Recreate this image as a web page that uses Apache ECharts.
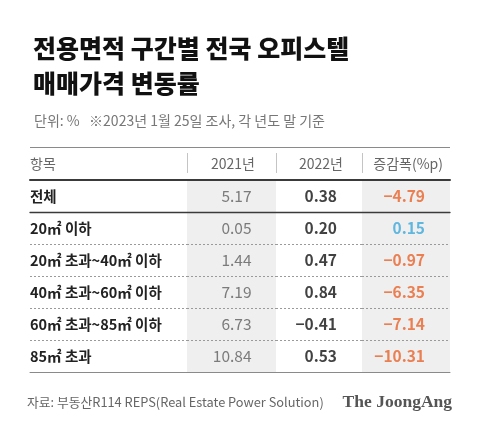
<!DOCTYPE html>
<html><head><meta charset="utf-8">
<script src="https://cdn.jsdelivr.net/npm/echarts@6/dist/echarts.min.js"></script>
<style>html,body{margin:0;padding:0;background:#fff}#c{width:480px;height:443px}</style>
</head><body><div id="c"></div>
<script>
const titleText = '전용면적 구간별 전국 오피스텔\n매매가격 변동률';
const subtitleText = '단위: %   ※2023년 1월 25일 조사, 각 년도 말 기준';
const headers = ['항목', '2021년', '2022년', '증감폭(%p)'];
const categories = ['전체', '20㎡ 이하', '20㎡ 초과~40㎡ 이하', '40㎡ 초과~60㎡ 이하', '60㎡ 초과~85㎡ 이하', '85㎡ 초과'];
const v2021 = [5.17, 0.05, 1.44, 7.19, 6.73, 10.84];
const v2022 = [0.38, 0.20, 0.47, 0.84, -0.41, 0.53];
const change = [-4.79, 0.15, -0.97, -6.35, -7.14, -10.31];
const sourceText = '자료: 부동산R114 REPS(Real Estate Power Solution)';
const brandText = 'The JoongAng';

const FONT = '"Noto Sans CJK KR", "Noto Sans", sans-serif';
const fmt = v => (v < 0 ? '−' : '') + Math.abs(v).toFixed(2);
const TOP = 180, H = 192;
const chart = echarts.init(document.getElementById('c'), null, {renderer: 'canvas'});

const colGrids = [
  {left: 30, width: 157},
  {left: 187, width: 89, shade: true},
  {left: 276, width: 86},
  {left: 362, width: 88, shade: true}
];
const grid = colGrids.map(g => ({
  left: g.left, width: g.width, top: TOP, height: H,
  show: !!g.shade, backgroundColor: g.shade ? '#efefef' : 'transparent', borderWidth: 0
}));
grid.push({left: 30, width: 420, top: TOP, height: H / categories.length});

const xAxis = colGrids.map((g, i) => ({
  type: 'category', gridIndex: i, data: [headers[i]], position: 'bottom',
  axisLine: {show: true, lineStyle: {color: '#8a8a8a', width: 1}},
  axisTick: {show: false}, axisLabel: {show: false}, splitLine: {show: false}
}));
xAxis.push({type: 'value', gridIndex: 4, position: 'top', min: 0, max: 1,
  axisLine: {show: true, onZero: false, lineStyle: {color: '#3a3a3a', width: 2}},
  axisTick: {show: false}, axisLabel: {show: false}, splitLine: {show: false}});
xAxis.push({type: 'value', gridIndex: 4, position: 'bottom', min: 0, max: 1,
  axisLine: {show: true, onZero: false, lineStyle: {color: '#3a3a3a', width: 1.3}},
  axisTick: {show: false}, axisLabel: {show: false}, splitLine: {show: false}});

const yAxis = colGrids.map((g, i) => ({
  type: 'category', gridIndex: i, data: categories, inverse: true, position: 'left',
  axisLine: {show: false}, axisTick: {show: false},
  axisLabel: i === 0 ? {
    show: true, inside: true, margin: 0, align: 'left', interval: 0,
    fontFamily: FONT, fontSize: 14.5, fontWeight: 'bold', color: '#222'
  } : {show: false},
  splitLine: {show: true, interval: 0, lineStyle: {color: '#9a9a9a', width: 1, type: [2, 2]}}
}));
yAxis.push({type: 'category', gridIndex: 4, data: [categories[0]], show: false});

function colSeries(idx, values, offset, styleFn) {
  return {
    type: 'scatter', xAxisIndex: idx, yAxisIndex: idx, symbolSize: 1,
    itemStyle: {color: 'rgba(0,0,0,0)'}, silent: true,
    data: values.map((v, i) => ({
      value: [headers[idx], categories[i], v],
      label: styleFn(v, i)
    })),
    label: {
      show: true, position: 'inside', align: 'right', verticalAlign: 'middle',
      offset: [offset, 0], fontFamily: FONT, fontSize: 15.5,
      formatter: p => fmt(p.value[2])
    }
  };
}

const series = [
  colSeries(1, v2021, 20, () => ({color: '#5e5e5e', fontWeight: 'normal'})),
  colSeries(2, v2022, 18, () => ({color: '#111', fontWeight: 'bold'})),
  colSeries(3, change, 19, v => ({color: v < 0 ? '#e8632b' : '#3ba7d9', fontWeight: 'bold'}))
];

const headerX = [30, 255, 343, 443];
const graphic = [
  {type: 'line', shape: {x1: 30, y1: 147.5, x2: 450, y2: 147.5}, style: {stroke: '#8a8a8a', lineWidth: 1}},
  ...[187, 276, 362].map(x => ({type: 'line', shape: {x1: x + 0.5, y1: 153, x2: x + 0.5, y2: 173}, style: {stroke: '#c4c4c4', lineWidth: 1}})),
  ...headers.map((h, i) => ({
    type: 'text', x: headerX[i], y: 164,
    style: {text: h, fill: '#666', font: '14px ' + FONT, textAlign: i === 0 ? 'left' : 'right', textVerticalAlign: 'middle'}
  })),
  {type: 'text', x: 27, y: 402, style: {text: sourceText, fill: '#666', font: '12.8px ' + FONT, textAlign: 'left', textVerticalAlign: 'middle'}},
  {type: 'text', x: 452, y: 402, style: {text: brandText, fill: '#555', font: 'bold 17.5px "Liberation Serif", "DejaVu Serif", serif', textAlign: 'right', textVerticalAlign: 'middle'}}
];

chart.setOption({
  animation: false,
  title: [
    {text: titleText, left: 28, top: 26, textStyle: {fontFamily: FONT, fontSize: 25, fontWeight: 900, color: '#111', lineHeight: 35}},
    {text: subtitleText, left: 29, top: 109, textStyle: {fontFamily: FONT, fontSize: 14, fontWeight: 'normal', color: '#777'}}
  ],
  grid, xAxis, yAxis, series, graphic
});
</script></body></html>
